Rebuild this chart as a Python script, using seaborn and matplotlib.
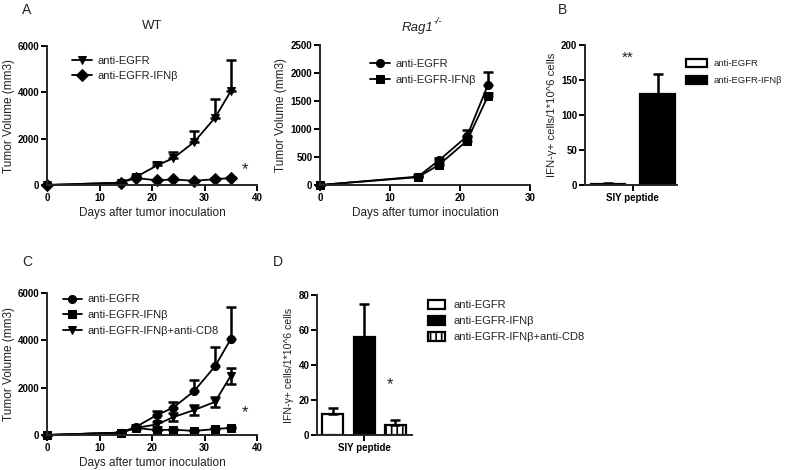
import matplotlib
matplotlib.use('Agg')
import matplotlib.pyplot as plt
import pandas as pd
import seaborn as sns

# Tumor growth, WT mice (panel A)
days = [0, 14, 17, 21, 24, 28, 32, 35]
wt_egfr = [0, 100, 350, 850, 1150, 1850, 2900, 4050]
wt_egfr_err = [0, 20, 80, 150, 280, 480, 800, 1350]
wt_ifnb = [0, 100, 300, 200, 240, 180, 250, 300]
wt_ifnb_err = [0, 20, 40, 30, 30, 30, 40, 40]

# Tumor growth, Rag1-/- mice
rag_days = [0, 14, 17, 21, 24]
rag_egfr = [0, 150, 440, 870, 1790]
rag_egfr_err = [0, 20, 50, 110, 220]
rag_ifnb = [0, 140, 360, 790, 1590]
rag_ifnb_err = [0, 15, 40, 60, 60]

# Tumor growth with CD8 depletion (panel C)
c_egfr = [0, 100, 350, 850, 1150, 1850, 2900, 4050]
c_egfr_err = [0, 20, 80, 150, 250, 470, 820, 1350]
c_ifnb = [0, 100, 300, 200, 230, 170, 250, 300]
c_ifnb_err = [0, 20, 40, 30, 30, 30, 40, 40]
c_cd8 = [0, 100, 300, 450, 750, 1050, 1400, 2500]
c_cd8_err = [0, 20, 50, 100, 180, 200, 220, 350]

# ELISPOT (panels B and D)
b_groups = ['anti-EGFR', 'anti-EGFR-IFNβ']
b_values = [2, 130]
b_err = [1, 28]
d_groups = ['anti-EGFR', 'anti-EGFR-IFNβ', 'anti-EGFR-IFNβ+anti-CD8']
d_values = [12, 56, 5.5]
d_err = [3.5, 19, 3]

sns.set_style('ticks')
plt.rcParams['font.family'] = ['Liberation Sans', 'DejaVu Sans']
plt.rcParams['hatch.linewidth'] = 1.2
txt = '#222222'

fig = plt.figure(figsize=(8, 4.7), dpi=100)
axA = fig.add_axes([0.05875, 0.6064, 0.2625, 0.2957])
axR = fig.add_axes([0.40, 0.6064, 0.2625, 0.2979])
axB = fig.add_axes([0.73125, 0.6064, 0.115, 0.2979])
axC = fig.add_axes([0.05875, 0.0745, 0.2625, 0.3021])
axD = fig.add_axes([0.39625, 0.0745, 0.11875, 0.2979])


def style_axes(ax):
    sns.despine(ax=ax)
    for s in ['left', 'bottom']:
        ax.spines[s].set_linewidth(1.4)
    ax.tick_params(width=1.4, length=4, labelsize=7, colors='k', pad=1.5)
    for lab in ax.get_xticklabels() + ax.get_yticklabels():
        lab.set_fontweight('bold')


def growth(ax, x, y, err, marker, label, both=False):
    sns.lineplot(x=x, y=y, ax=ax, color='k', marker=marker, markersize=5.8,
                 markeredgecolor='k', linewidth=1.3, label=label, errorbar=None,
                 clip_on=False)
    lower = err if both else [0] * len(err)
    ax.errorbar(x, y, yerr=[lower, err], fmt='none', ecolor='k',
                elinewidth=1.8, capsize=3.5, capthick=1.8, clip_on=False)


def growth_axes(ax, xmax, ymax, ystep):
    ax.set_xlim(0, xmax)
    ax.set_ylim(0, ymax)
    ax.set_xticks(range(0, xmax + 1, 10))
    ax.set_yticks(range(0, ymax + 1, ystep))
    ax.set_xlabel('Days after tumor inoculation', fontsize=8.5, color=txt, labelpad=3)
    ax.set_ylabel('Tumor Volume (mm3)', fontsize=8.5, color=txt)
    ax.yaxis.set_label_coords(-0.15, 0.5)
    style_axes(ax)


def growth_legend(ax, x, y, hlen):
    ax.legend(loc='upper left', bbox_to_anchor=(x, y), frameon=False,
              fontsize=8, handlelength=hlen, handletextpad=0.5, labelspacing=0.5,
              borderpad=0, borderaxespad=0, labelcolor=txt)


# Panel A
growth(axA, days, wt_egfr, wt_egfr_err, 'v', 'anti-EGFR')
growth(axA, days, wt_ifnb, wt_ifnb_err, 'D', 'anti-EGFR-IFNβ')
growth_axes(axA, 40, 6000, 2000)
growth_legend(axA, 0.12, 0.93, 1.8)
axA.text(37.7, 650, '*', fontsize=12, ha='center', va='center', color=txt)
axA.set_title('WT', fontsize=9.5, color=txt, pad=12)

# Panel Rag1-/-
growth(axR, rag_days, rag_egfr, rag_egfr_err, 'o', 'anti-EGFR')
growth(axR, rag_days, rag_ifnb, rag_ifnb_err, 's', 'anti-EGFR-IFNβ')
growth_axes(axR, 30, 2500, 500)
axR.yaxis.set_label_coords(-0.155, 0.5)
growth_legend(axR, 0.24, 0.90, 1.8)
axR.text(0.538, 1.1, 'Rag1', style='italic', fontsize=9.5, color=txt,
         ha='right', va='baseline', transform=axR.transAxes)
axR.text(0.54, 1.15, '-/-', style='italic', fontsize=6.5, color=txt,
         ha='left', va='baseline', transform=axR.transAxes)

# Panel C
growth(axC, days, c_egfr, c_egfr_err, 'o', 'anti-EGFR')
growth(axC, days, c_ifnb, c_ifnb_err, 's', 'anti-EGFR-IFNβ')
growth(axC, days, c_cd8, c_cd8_err, 'v', 'anti-EGFR-IFNβ+anti-CD8', both=True)
growth_axes(axC, 40, 6000, 2000)
growth_legend(axC, 0.076, 0.99, 1.7)
axC.text(37.7, 950, '*', fontsize=12, ha='center', va='center', color=txt)


def elispot(ax, groups, values, err, colors, gap, labsize):
    df = pd.DataFrame({'peptide': 'SIY peptide', 'group': groups, 'value': values})
    sns.barplot(data=df, x='peptide', y='value', hue='group', palette=colors,
                edgecolor='k', linewidth=1.6, width=0.8, gap=gap, ax=ax,
                errorbar=None)
    bars = list(ax.patches)[:len(values)]
    xs = [p.get_x() + p.get_width() / 2 for p in bars]
    ax.errorbar(xs, values, yerr=[[0] * len(err), err], fmt='none', ecolor='k',
                elinewidth=1.8, capsize=3.5, capthick=1.8)
    ax.set_xlabel('')
    ax.set_ylabel('IFN-γ+ cells/1*10^6 cells', fontsize=labsize, color=txt, labelpad=3)
    style_axes(ax)
    return bars


# Panel B
elispot(axB, b_groups, b_values, b_err, ['white', 'black'], 0.3, 8.2)
axB.set_ylim(0, 200)
axB.set_yticks(range(0, 201, 50))
axB.set_xlim(-0.385, 0.355)
axB.legend(loc='upper left', bbox_to_anchor=(1.1, 0.9), frameon=False,
           fontsize=6.8, handlelength=2.2, handleheight=0.9, handletextpad=0.7,
           labelspacing=0.8, borderpad=0, borderaxespad=0, labelcolor=txt)
axB.text(-0.04, 182, '**', fontsize=11, ha='center', va='center', color=txt)

# Panel D
barsD = elispot(axD, d_groups, d_values, d_err, ['white', 'black', 'white'], 0.33, 7.6)
barsD[2].set_hatch('|||')
axD.set_ylim(0, 80)
axD.set_yticks(range(0, 81, 20))
axD.set_xlim(-0.40, 0.407)
legD = axD.legend(loc='upper left', bbox_to_anchor=(1.17, 0.965), frameon=False,
                  fontsize=8, handlelength=1.5, handleheight=0.9, handletextpad=0.8,
                  labelspacing=0.5, borderpad=0, borderaxespad=0, labelcolor=txt)
legD.legend_handles[2].set_hatch('|||')
axD.text(0.22, 29, '*', fontsize=12, ha='center', va='center', color=txt)

# panel letters
for letter, x, y in [('A', 22, 10), ('B', 558, 10), ('C', 22, 262), ('D', 273, 262)]:
    fig.text(x / 800, 1 - y / 470, letter, fontsize=10, color=txt, va='center')

fig.savefig('out.png', dpi=100)
